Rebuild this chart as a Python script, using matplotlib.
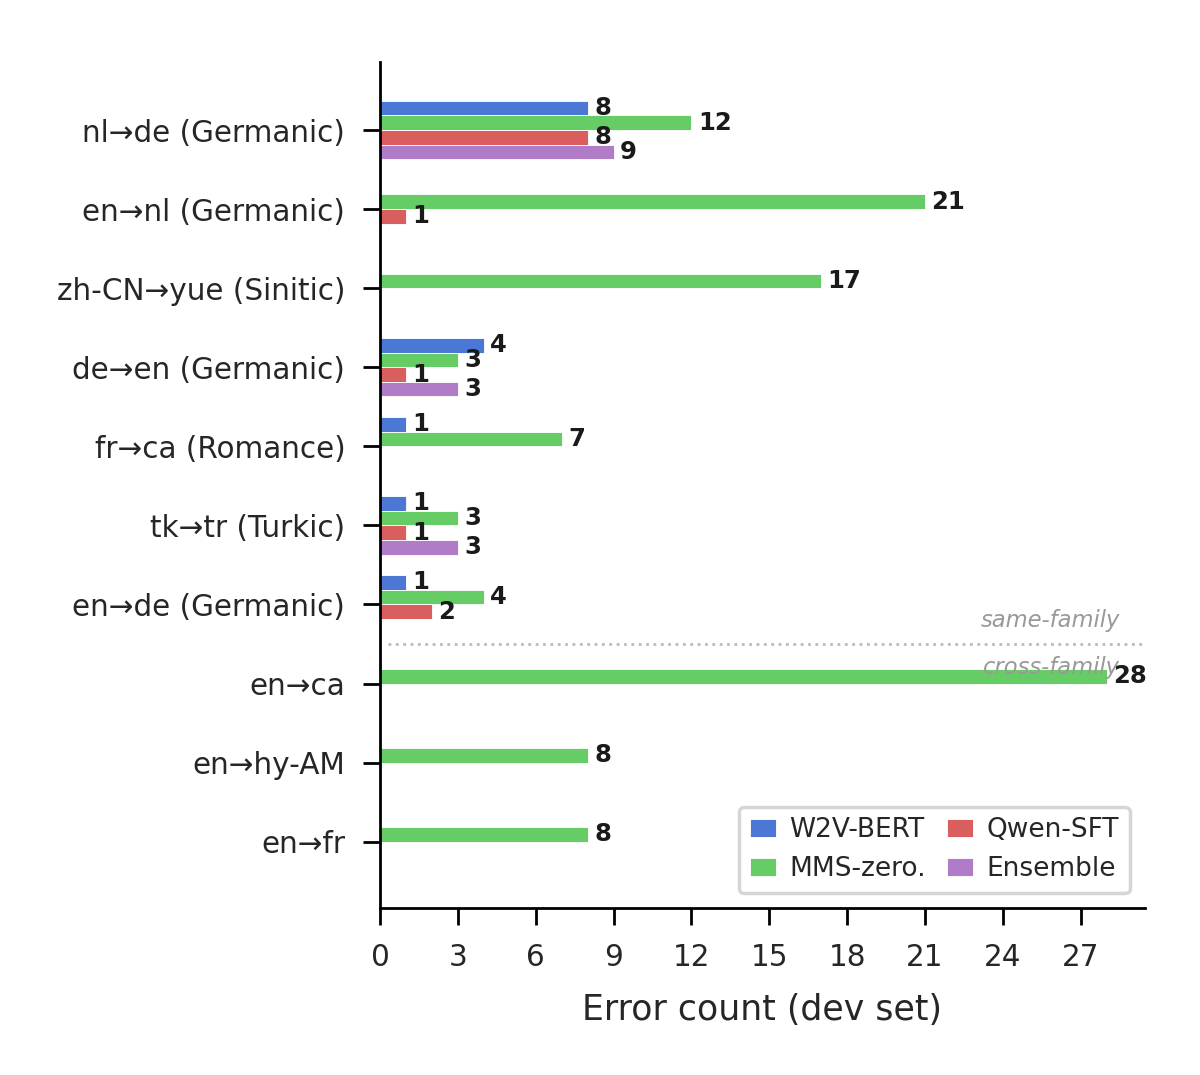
import matplotlib
matplotlib.use("Agg")
import matplotlib.pyplot as plt
import matplotlib.transforms as mtransforms
from matplotlib.ticker import MultipleLocator
import numpy as np

# data, top to bottom as in the chart
pairs = ["nl→de (Germanic)", "en→nl (Germanic)", "zh-CN→yue (Sinitic)",
         "de→en (Germanic)", "fr→ca (Romance)", "tk→tr (Turkic)",
         "en→de (Germanic)", "en→ca", "en→hy-AM", "en→fr"]
w2v_bert = [8, 0, 0, 4, 1, 1, 1, 0, 0, 0]
mms_zero = [12, 21, 17, 3, 7, 3, 4, 28, 8, 8]
qwen_sft = [8, 1, 0, 1, 0, 1, 2, 0, 0, 0]
ensemble = [9, 0, 0, 3, 0, 3, 0, 0, 0, 0]

series = [("W2V-BERT", w2v_bert, "#4a78d4"),
          ("MMS-zero.", mms_zero, "#66cc66"),
          ("Qwen-SFT", qwen_sft, "#d95f5f"),
          ("Ensemble", ensemble, "#b07cc8")]
n_same_family = 7
txt = "#262626"

fig = plt.figure(figsize=(4.8, 4.3), dpi=250)
ax = fig.add_axes([0.3167, 0.1553, 0.6373, 0.787])

y = np.arange(len(pairs))
h = 0.185
for i, (name, vals, col) in enumerate(series):
    off = (i - 1.5) * h
    vals = np.array(vals)
    mask = vals > 0
    ax.barh(y[mask] + off, vals[mask], height=h, color=col, label=name,
            edgecolor="white", linewidth=0.25)
    for yy, v in zip(y[mask] + off, vals[mask]):
        ax.text(v + 0.25, yy, str(v), va="center", ha="left",
                fontsize=7, fontweight="bold", color="#1a1a1a")

# separator same-family / cross-family
sep = n_same_family - 0.5
ax.axhline(sep, color="#bbbbbb", linestyle=":", linewidth=0.8, xmin=0.01)
tr = mtransforms.blended_transform_factory(ax.transAxes, ax.transData)
ax.text(0.968, sep - 0.3, "same-family", transform=tr, ha="right", va="center",
        fontsize=6.5, style="italic", color="#999999")
ax.text(0.968, sep + 0.3, "cross-family", transform=tr, ha="right", va="center",
        fontsize=6.5, style="italic", color="#999999")

ax.set_yticks(y)
ax.set_yticklabels(pairs, fontsize=8.5, color=txt)
ax.set_ylim(9.84, -0.86)
ax.set_xlim(0, 29.47)
ax.xaxis.set_major_locator(MultipleLocator(3))
ax.tick_params(axis="x", labelsize=8.5, length=5, pad=5, labelcolor=txt)
ax.tick_params(axis="y", length=5, pad=5)
ax.set_xlabel("Error count (dev set)", fontsize=10, labelpad=6, color=txt)
ax.spines["top"].set_visible(False)
ax.spines["right"].set_visible(False)

ax.legend(loc="lower right", ncol=2, fontsize=7.6, handlelength=1.0,
          handleheight=0.7, handletextpad=0.5, columnspacing=0.8,
          borderaxespad=0, bbox_to_anchor=(0.980, 0.018),
          framealpha=0.8, labelcolor=txt)

fig.savefig("out.png", dpi=250)
